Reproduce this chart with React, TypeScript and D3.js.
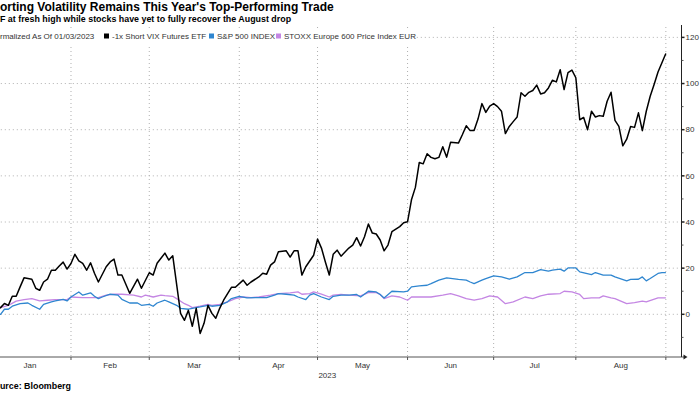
import React from 'react'
import * as d3 from 'd3'

// x values are weekday counts since 01/03/2023 (Bloomberg skips weekends)
const months = ['Jan', 'Feb', 'Mar', 'Apr', 'May', 'Jun', 'Jul', 'Aug']
const monthStarts = [0, 21, 41, 64, 84, 107, 129, 150, 173]
const yTicks = [0, 20, 40, 60, 80, 100, 120]
const yMinorTicks = [-10, 10, 30, 50, 70, 90, 110]

const seriesNames = ['-1x Short VIX Futures ETF', 'S&P 500 INDEX', 'STOXX Europe 600 Price Index EUR']

const shortVix: [number, number][] = [
  [0, 0], [3, 2.9], [4, 4.7], [5, 3.9], [6, 7.8], [7, 7.8], [8, 11.9], [9, 15.8], [11, 15.2], [12, 11.3],
  [13, 10.4], [14, 14], [15, 15.2], [16, 19.1], [17, 19.1], [18, 20.9], [19, 22.6], [20, 19.6], [21, 22],
  [22, 26], [23, 23.2], [24, 22.1], [25, 19.1], [26, 22.3], [27, 17.8], [28, 14], [30, 20.6], [31, 22.7],
  [32, 23.9], [33, 17], [34, 17], [36, 9.1], [38, 15.2], [39, 11.3], [41, 18], [42, 17], [43, 22.1],
  [45, 26.5], [46, 23.5], [47, 25.4], [49, 0.4], [50, -2.6], [51, 1.7], [52, -5.2], [53, 2.6], [54, -8.3],
  [55, -3.9], [56, 3.9], [57, 0.4], [58, -1.7], [59, 2.6], [60, 6.1], [62, 11.7], [63, 11.7], [65, 14.8],
  [66, 12.6], [67, 14], [69, 16.2], [70, 17.8], [71, 17.4], [72, 21.3], [73, 22.7], [74, 27.1], [76, 27.5],
  [77, 24.8], [78, 27.5], [79, 27.5], [80, 17], [81, 20.6], [83, 25.6], [84, 32.6], [85, 28.7], [86, 22.7],
  [87, 17], [88, 26], [89, 27.8], [90, 25.2], [92, 28.7], [93, 30], [94, 33.2], [95, 29.6], [96, 33.6],
  [97, 39.1], [98, 35.2], [99, 34.8], [100, 32.2], [101, 27.5], [102, 30], [103, 35.8], [105, 38],
  [106, 39.7], [107, 40.1], [108, 49.6], [109, 55], [110, 65.8], [111, 65.2], [112, 69.6], [113, 68],
  [114, 67.4], [115, 68], [116, 72.6], [117, 68.1], [118, 74.6], [120, 74.2], [121, 77.8], [122, 81.7],
  [123, 79.6], [124, 79.7], [125, 84.6], [126, 91.3], [127, 87.5], [128, 90.2], [129, 91.3], [130, 90],
  [131, 88], [132, 78.3], [133, 81.4], [134, 83.5], [135, 85.5], [136, 96], [137, 94.5], [138, 96.2],
  [139, 97], [140, 99.3], [141, 95.5], [142, 96], [143, 98.1], [144, 101.4], [145, 100.7], [146, 106],
  [147, 97.4], [148, 104.7], [149, 105.8], [150, 102.5], [151, 84.3], [152, 85.3], [153, 80], [154, 88],
  [155, 85.5], [156, 86.1], [157, 85.8], [158, 92.3], [159, 96.2], [160, 84], [161, 81.4], [162, 73],
  [163, 75.9], [164, 81.4], [165, 81], [166, 87.3], [167, 79.6], [168, 88], [169, 94.5], [170, 99.6],
  [171, 105], [172, 109], [173, 113],
]

const spx: [number, number][] = [
  [0, 0], [3, 0], [4, 2.2], [5, 2.2], [6, 3.5], [8, 4.6], [10, 4.9], [11, 3.9], [13, 2.2], [14, 4.3],
  [16, 5.4], [17, 5.8], [19, 6.5], [20, 5.8], [21, 7.5], [23, 9.7], [24, 8.3], [26, 9.3], [27, 7.8],
  [28, 6.8], [29, 7.5], [31, 8.7], [33, 8.3], [34, 6.5], [36, 4.9], [38, 4.9], [39, 3.9], [41, 4.3],
  [42, 3.5], [43, 4.9], [45, 6.1], [46, 5.4], [48, 3.9], [49, 2.6], [51, 2.2], [52, 2.6], [54, 3.2],
  [56, 3.9], [57, 3.5], [59, 3.9], [61, 5.4], [62, 6.8], [64, 7.8], [66, 7.1], [68, 7.2], [71, 7.2],
  [73, 8.3], [74, 9], [76, 8.7], [78, 8.3], [79, 7.5], [81, 6.4], [82, 8.3], [83, 9], [85, 7.5], [87, 6.4],
  [88, 7.8], [90, 8.3], [92, 8.3], [94, 8.6], [95, 7.5], [97, 10], [99, 9.7], [100, 8.6], [101, 7.1],
  [103, 10], [106, 9.7], [107, 10], [108, 11.9], [110, 12.3], [112, 12.6], [113, 13.3], [115, 14.8],
  [117, 15.8], [120, 15.1], [122, 14.8], [123, 14], [124, 13.3], [126, 14.8], [127, 15.5], [129, 16.7],
  [131, 16.2], [133, 15.2], [135, 16.2], [137, 18.1], [139, 18.1], [141, 19.4], [143, 18.7], [144, 19.1],
  [146, 19.6], [147, 18.7], [148, 20.1], [150, 20.1], [151, 18.4], [154, 17.2], [155, 18.1], [157, 17],
  [159, 17], [160, 16.2], [163, 14.5], [164, 15.1], [166, 15.2], [167, 16.2], [168, 14.5], [169, 15.5],
  [171, 17.7], [172, 18.1], [173, 18.1],
]

const stoxx: [number, number][] = [
  [0, 0], [3, 2.9], [5, 3.9], [7, 5.7], [9, 6.4], [11, 6.8], [13, 5.8], [15, 6.1], [17, 6.4], [20, 6.4],
  [21, 7.5], [24, 7.2], [27, 7.2], [28, 7.2], [30, 8.3], [32, 8.7], [34, 8.7], [37, 8.3], [39, 7.5],
  [40, 8.3], [42, 7.5], [44, 8.3], [45, 8.1], [47, 7.8], [48, 6.8], [50, 4.6], [51, 3.9], [52, 2.9],
  [54, 3.5], [56, 4.3], [57, 3.9], [59, 4.3], [61, 5.4], [63, 6.8], [65, 7.5], [67, 7.2], [69, 7.5],
  [72, 8.3], [74, 9], [77, 9.3], [79, 9.7], [80, 8.7], [82, 9], [83, 9.7], [85, 8.7], [87, 7.5], [88, 8.3],
  [90, 8.6], [92, 8.3], [95, 8], [97, 9.4], [99, 9.4], [100, 8.6], [101, 6.8], [103, 8], [105, 7.5],
  [107, 6.1], [108, 7.5], [111, 7.5], [113, 7.5], [116, 8.3], [118, 9], [120, 8], [122, 6.8], [124, 6.1],
  [126, 6.8], [128, 8], [130, 7.5], [132, 4.6], [134, 5.4], [137, 7.5], [139, 6.8], [141, 8], [143, 8.7],
  [146, 9], [147, 10], [149, 9.7], [151, 8.6], [152, 6.8], [154, 7.1], [156, 7.1], [157, 8], [159, 7.1],
  [160, 6.8], [163, 4.6], [165, 5.1], [167, 5.7], [168, 5.4], [171, 7.1], [173, 7.1],
]

const W = 700
const H = 394
const plot = { left: -11.2, right: 681.5, top: 27, bottom: 357 }
const colors = { vix: '#000000', spx: '#2f86d0', stoxx: '#c486e3' }
const grid = '#b0b0b0'
const font = '"Liberation Sans", Arial, sans-serif'

export default function App() {
  const x = d3.scaleLinear().domain([0, 177]).range([plot.left, plot.right])
  const y = d3.scaleLinear().domain([-18.5, 124.5]).range([plot.bottom, plot.top])
  const line = d3.line<[number, number]>()
    .x(d => x(d[0]))
    .y(d => y(d[1]))

  const legendY = 36
  const legend = [
    { name: seriesNames[0], color: colors.vix, sx: 104, tx: 112 },
    { name: seriesNames[1], color: colors.spx, sx: 209, tx: 217 },
    { name: seriesNames[2], color: colors.stoxx, sx: 276, tx: 284 },
  ]

  return (
    <div style={{ position: 'fixed', left: 0, top: 0 }}>
      <svg width={W} height={H} style={{ display: 'block', background: '#fff' }} fontFamily={font}>
        <clipPath id="plotClip">
          <rect x={plot.left} y={plot.top} width={plot.right - plot.left} height={plot.bottom - plot.top} />
        </clipPath>

        {/* grid */}
        {yTicks.map(t => (
          <line key={'gy' + t} x1={plot.left} x2={plot.right} y1={y(t)} y2={y(t)}
            stroke={grid} strokeWidth={1} strokeDasharray="1,3" />
        ))}
        {monthStarts.slice(1).map(m => (
          <line key={'gx' + m} x1={x(m)} x2={x(m)} y1={plot.top} y2={plot.bottom}
            stroke={grid} strokeWidth={1} strokeDasharray="1,3" />
        ))}

        {/* series */}
        <g clipPath="url(#plotClip)" fill="none" strokeLinejoin="round">
          <path d={line(stoxx) || ''} stroke={colors.stoxx} strokeWidth={1.3} />
          <path d={line(spx) || ''} stroke={colors.spx} strokeWidth={1.3} />
          <path d={line(shortVix) || ''} stroke={colors.vix} strokeWidth={1.5} />
        </g>

        {/* x axis */}
        <line x1={plot.left} x2={plot.right + 4} y1={plot.bottom} y2={plot.bottom} stroke="#555" strokeWidth={1} />
        <path d={`M${plot.right + 6},${plot.bottom} l-4,-2.5 v5 z`} fill="#222" />
        {monthStarts.slice(1).map(m => (
          <line key={'tx' + m} x1={x(m)} x2={x(m)} y1={plot.bottom} y2={plot.bottom + 3} stroke="#555" />
        ))}
        {months.map((mo, i) => (
          <text key={mo} x={x((monthStarts[i] + monthStarts[i + 1]) / 2)} y={plot.bottom + 11}
            textAnchor="middle" fontSize={8} fill="#333">{mo}</text>
        ))}
        <text x={x((monthStarts[0] + monthStarts[8]) / 2)} y={plot.bottom + 21} textAnchor="middle" fontSize={8} fill="#333">2023</text>

        {/* y axis */}
        <line x1={plot.right} x2={plot.right} y1={plot.top - 2} y2={plot.bottom} stroke="#222" strokeWidth={1} />
        {yTicks.map(t => (
          <g key={'ty' + t}>
            <line x1={plot.right} x2={plot.right + 3} y1={y(t)} y2={y(t)} stroke="#222" strokeWidth={1.5} />
            <text x={plot.right + 4} y={y(t)} dy="0.35em" fontSize={8} fill="#333">{t}</text>
          </g>
        ))}
        {yMinorTicks.map(t => (
          <line key={'my' + t} x1={plot.right} x2={plot.right + 2} y1={y(t)} y2={y(t)} stroke="#555" />
        ))}

        {/* legend */}
        <rect x={0} y={legendY - 8} width={410} height={17} fill="#fff" />
        <text x={-10.2} y={legendY} dy="0.35em" fontSize={8} fill="#333">Normalized As Of 01/03/2023</text>
        {legend.map(l => (
          <g key={l.name}>
            <rect x={l.sx} y={legendY - 2.5} width={5} height={5} fill={l.color} />
            <text x={l.tx} y={legendY} dy="0.35em" fontSize={8} fill="#333">{l.name}</text>
          </g>
        ))}

        {/* titles */}
        <text x={-15.3} y={11} fontSize={12} fontWeight="bold" fill="#000">Shorting Volatility Remains This Year's Top-Performing Trade</text>
        <text x={-11.4} y={22} fontSize={8.9} fontWeight="bold" fill="#000">ETF at fresh high while stocks have yet to fully recover the August drop</text>
        <text x={-11.4} y={389} fontSize={8.9} fontWeight="bold" fill="#000">Source: Bloomberg</text>
      </svg>
    </div>
  )
}
